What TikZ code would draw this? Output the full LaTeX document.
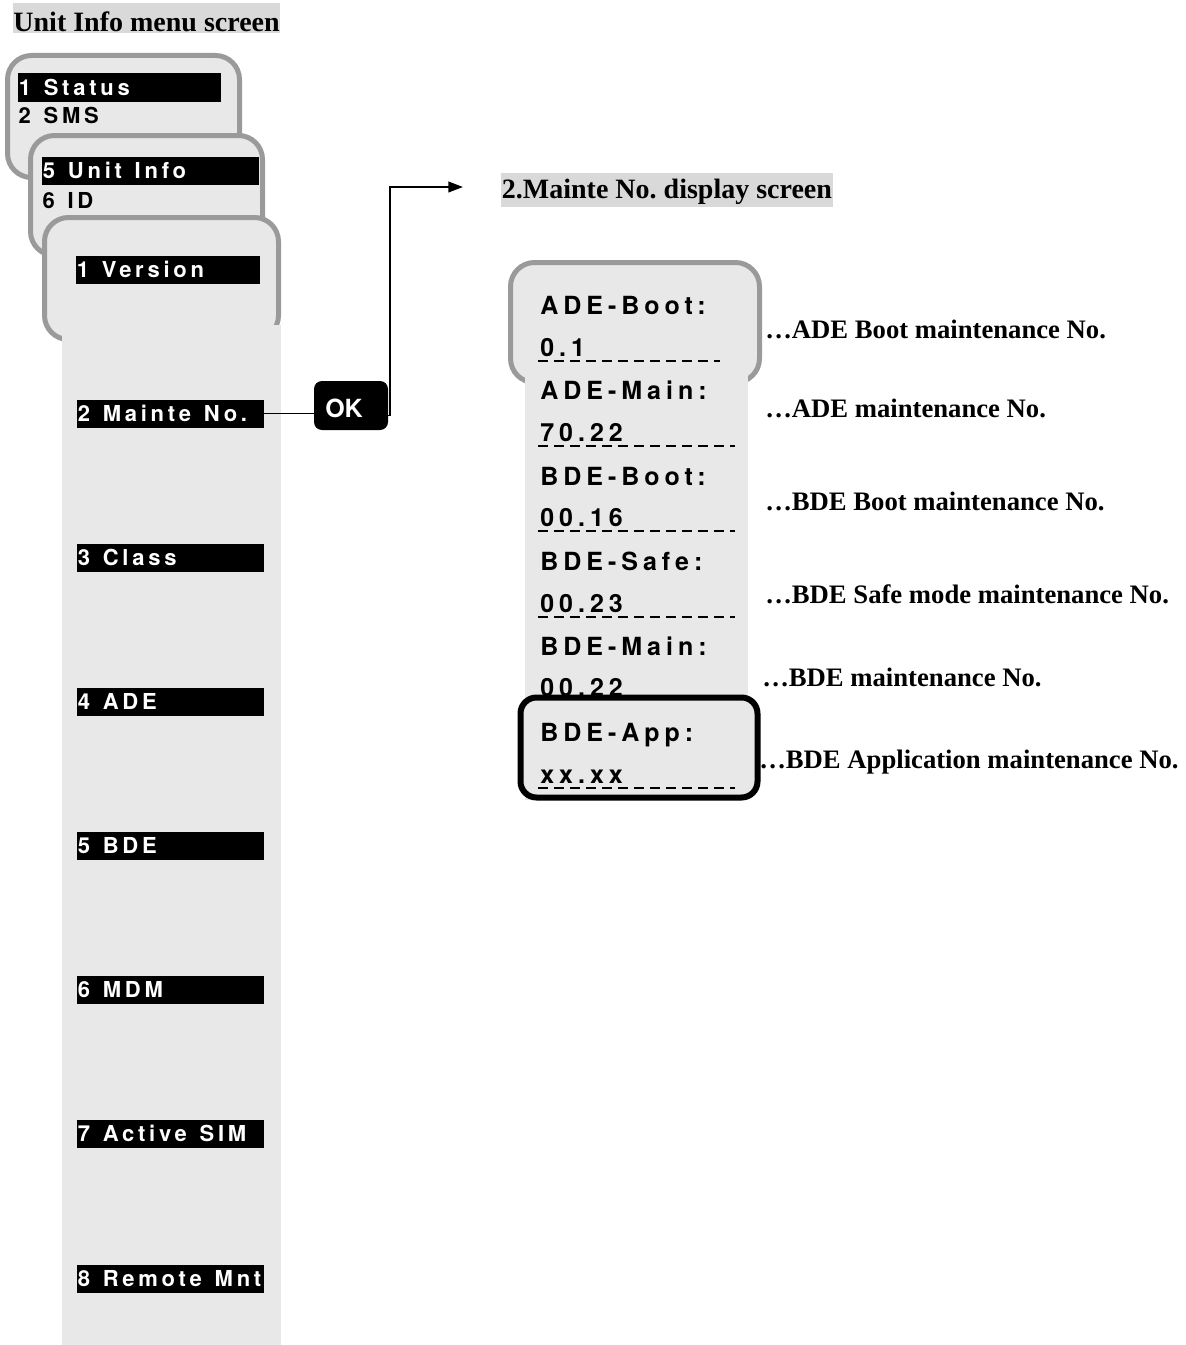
\documentclass[tikz,border=0pt]{standalone}
\usepackage{fontspec}
\setmainfont{Liberation Serif}
\newfontfamily\menuf[LetterSpace=17,WordSpace=1.3]{TeX Gyre Heros}
\newfontfamily\scrf[LetterSpace=20]{TeX Gyre Heros}
\newfontfamily\okf{TeX Gyre Heros}
\usetikzlibrary{arrows.meta}
\definecolor{scrfill}{HTML}{E8E8E8}
\definecolor{scredge}{HTML}{9A9A9A}
\definecolor{titlebg}{HTML}{D9D9D9}
\frenchspacing
\newcommand\barbox[2]{\makebox[#1][l]{#2}}
\begin{document}
\begin{tikzpicture}[x=0.75pt,y=-0.75pt,
 screen/.style={draw=scredge, fill=scrfill, line width=3.75pt, rounded corners=18pt},
 bar/.style={fill=black, text=white, font=\menuf\bfseries\fontsize{16.5}{18}\selectfont, anchor=west, inner xsep=0.4pt, inner ysep=0pt, minimum height=21pt, text height=11.8pt, text depth=0pt},
 mtext/.style={font=\menuf\bfseries\fontsize{16.5}{18}\selectfont, anchor=west, inner sep=0pt},
 stext/.style={font=\scrf\bfseries\fontsize{18.75}{20}\selectfont, anchor=base west, inner sep=0pt},
 dashline/.style={line width=1.5pt, dash pattern=on 7.5pt off 4.5pt},
 lab/.style={font=\bfseries\fontsize{20}{22}\selectfont, anchor=base west, inner sep=0pt},
 ttl/.style={fill=titlebg, font=\bfseries\fontsize{21}{24}\selectfont, anchor=base west, inner xsep=0.5pt, inner ysep=0pt},
 conn/.style={line width=1.4pt},
 okbox/.style={fill=black, rounded corners=6pt, minimum width=55.5pt, minimum height=36.75pt, inner sep=0pt},
 oktext/.style={text=white, font=\okf\bfseries\fontsize{18.75}{20}\selectfont, inner sep=0pt},
]
\useasboundingbox (0,0) rectangle (1185,1345);

% titles
\node[ttl, text height=21.5pt, text depth=1.1pt] (t1) at (12.5,31.7) {Unit Info menu screen};
\node[ttl, text height=18.75pt, text depth=6.75pt] (t2) at (501,198) {2.Mainte No. display screen};

% screen 1
\draw[screen] (7.5,55.5) rectangle (239.5,177.5);
\node[bar] (s1) at (18,87.5) {\barbox{151.4pt}{1 Status}};
\node[mtext] (s2) at (18.3,115.5) {2 SMS};

% screen 2
\draw[screen] (30.5,135.5) rectangle (262.5,255.5);
\node[bar] (u5) at (42,171) {\barbox{161.9pt}{5 Unit Info}};
\node[mtext] (u6) at (42.3,200.5) {6 ID};

% screen 3 + column
\draw[screen] (44.5,217.5) rectangle (278.5,339.5);
\fill[scrfill] (62,325) rectangle (281,1345);
\node[bar] (m1) at (76,269.5) {\barbox{137.2pt}{1 Version}};
\node[bar] (m2) at (77,413.5) {\barbox{139.4pt}{2 Mainte No.}};
\node[bar] (m3) at (77,557.5) {\barbox{139.4pt}{3 Class}};
\node[bar] (m4) at (77,701.5) {\barbox{139.4pt}{4 ADE}};
\node[bar] (m5) at (77,845.5) {\barbox{139.4pt}{5 BDE}};
\node[bar] (m6) at (77,989.5) {\barbox{139.4pt}{6 MDM}};
\node[bar] (m7) at (77,1134) {\barbox{139.4pt}{7 Active SIM}};
\node[bar] (m8) at (77,1279) {\barbox{139.4pt}{8 Remote Mnt}};

% OK button and connectors
\node[okbox] (ok) at (351,405.5) {};
\node[oktext] (okt) at (344,408) {OK};
\draw[conn] (m2.east) -- (m2.east -| ok.west);
\coordinate (bend) at (390,187);
\coordinate (tip) at (463,187);
\draw[conn, -{Triangle[length=11pt,width=8pt]}] ([yshift=-7.5pt]ok.east) -| (bend) -- (tip);

% right screen
\draw[screen] (510.5,262.5) rectangle (759.5,382.5);
\fill[scrfill] (525,368) rectangle (748,800);

\node[stext] (a1) at (540,314) {ADE-Boot:};
\node[stext] (v1) at (540,356.5) {0.1};
\draw[dashline] (538,361) -- (720,361);
\node[stext] (a2) at (540,399) {ADE-Main:};
\node[stext] (v2) at (540,441.5) {70.22};
\draw[dashline] (538,446) -- (735,446);
\node[stext] (a3) at (540,485) {BDE-Boot:};
\node[stext] (v3) at (540,526.5) {00.16};
\draw[dashline] (538,531) -- (735,531);
\node[stext] (a4) at (540,570) {BDE-Safe:};
\node[stext] (v4) at (540,612.5) {00.23};
\draw[dashline] (538,617) -- (735,617);
\node[stext] (a5) at (540,655) {BDE-Main:};
\node[stext] (v5) at (540,696.5) {00.22};
\draw[dashline] (538,701) -- (735,701);

\draw[line width=4.5pt, fill=scrfill, rounded corners=12pt] (520.5,697.5) rectangle (757.5,797.5);
\node[stext] (a6) at (540,741) {BDE-App:};
\node[stext] (v6) at (540,783.5) {xx.xx};
\draw[dashline] (538,788) -- (735,788);

% labels
\node[lab] (l1) at (765,338) {…ADE Boot maintenance No.};
\node[lab] (l2) at (765,417) {…ADE maintenance No.};
\node[lab] (l3) at (765,510) {…BDE Boot maintenance No.};
\node[lab] (l4) at (765,603) {…BDE Safe mode maintenance No.};
\node[lab] (l5) at (762,686) {…BDE maintenance No.};
\node[lab] (l6) at (759,768) {…BDE Application maintenance No.};
\end{tikzpicture}
\end{document}
